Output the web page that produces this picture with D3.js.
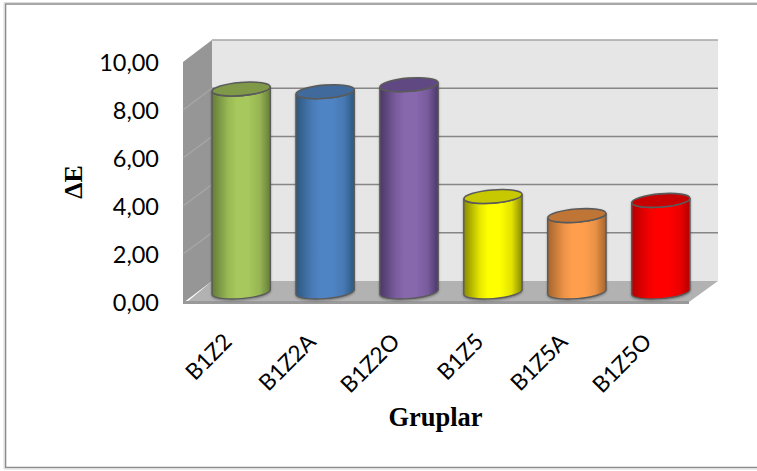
<!DOCTYPE html>
<html>
<head>
<meta charset="utf-8">
<script src="https://cdn.jsdelivr.net/npm/d3@7"></script>
<style>
html,body{margin:0;padding:0;background:#fff}
svg{display:block}
</style>
</head>
<body>
<svg id="chart" width="757" height="471"></svg>
<script>
const groups = ["B1Z2","B1Z2A","B1Z2O","B1Z5","B1Z5A","B1Z5O"];
const deltaE = [8.42,8.31,8.60,3.96,3.17,3.80];
const yTicks = [0,2,4,6,8,10];
const edgeColors = ["#647d38","#2c5880","#4b3768","#8a8a00","#a5652c","#b40000"];
const midColors  = ["#a6c85c","#5084c4","#8767ad","#ffff00","#ff9f4e","#ff0000"];
const capColors  = ["#7f994a","#3f6b9c","#614a82","#c8c800","#bf7535","#c80000"];

const W = 757, H = 471;
const svg = d3.select("#chart");
const defs = svg.append("defs");

// Depth of the 3D box: the back wall is offset from the front plane.
const depthX = 29;

// Value scales for the front plane (axis labels), back wall (gridlines) and bar centre plane.
const yFront = d3.scaleLinear().domain([0,10]).range([302,62]);
const yBack  = d3.scaleLinear().domain([0,10]).range([281,40]);
const yBar   = d3.scaleLinear().domain([0,10]).range([292,51]);
const x = d3.scaleBand().domain(groups).range([199,703]).paddingInner(0.305).paddingOuter(0.155);

const frontL = 183, frontR = 689, backL = frontL+depthX, backR = frontR+depthX;

// Outer frame: left, top and bottom rules
const frame = svg.append("g").attr("fill","none");
frame.append("path").attr("d",`M${W},4H5.5V467.5H${W}`).attr("stroke","#8c8c8c").attr("stroke-width",1.6);
frame.append("path").attr("d",`M${W},2.5H4V469H${W}`).attr("stroke","#dcdcdc").attr("stroke-width",1);

// Back wall, side wall, floor
const box = svg.append("g");
box.append("rect").attr("x",backL).attr("y",yBack(10)).attr("width",backR-backL).attr("height",yBack(0)-yBack(10)).attr("fill","#e6e6e6");
box.append("path")
  .attr("d",`M${frontL},${yFront(10)}L${backL},${yBack(10)}V${yBack(0)}L${frontL},${yFront(0)+1}Z`)
  .attr("fill","#969696");
box.append("path")
  .attr("d",`M${frontL+4},${yFront(0)}L${backL},${yBack(0)}H${backR}L${frontR},${yFront(0)}Z`)
  .attr("fill","#b2b2b2");
box.append("rect").attr("x",frontL).attr("y",yFront(0)-1).attr("width",frontR-frontL).attr("height",3).attr("fill","#999999");

// Gridlines across the back wall and their continuation on the side wall
const grid = box.append("g");
grid.selectAll("line.back").data(yTicks.slice(1)).join("line")
  .attr("class","back")
  .attr("x1",backL).attr("x2",backR)
  .attr("y1",d=>yBack(d)).attr("y2",d=>yBack(d))
  .attr("stroke",d=>d===10?"#a6a6a6":"#868686").attr("stroke-width",1.5);
grid.selectAll("line.side").data(yTicks.slice(1,5)).join("line")
  .attr("class","side")
  .attr("x1",frontL).attr("x2",backL)
  .attr("y1",d=>yFront(d)).attr("y2",d=>yBack(d))
  .attr("stroke","#a8a8a8").attr("stroke-width",1.2);

// Horizontal shading for each cylinder
groups.forEach((g,i)=>{
  const grad = defs.append("linearGradient").attr("id","cyl"+i);
  [[0,edgeColors[i]],[0.28,d3.interpolateRgb(edgeColors[i],midColors[i])(0.8)],[0.42,midColors[i]],[0.62,midColors[i]],[0.82,d3.interpolateRgb(edgeColors[i],midColors[i])(0.75)],[1,edgeColors[i]]]
    .forEach(([o,c])=>grad.append("stop").attr("offset",o).attr("stop-color",c));
});
defs.append("filter").attr("id","soft").attr("x","-20%").attr("y","-20%").attr("width","140%").attr("height","140%")
  .append("feDropShadow").attr("dx",0).attr("dy",1).attr("stdDeviation",0.8).attr("flood-color","#000").attr("flood-opacity",0.35);

// Cylinders: tilted ellipse caps joined by straight sides
const tilt = 4.6, ry = 6.6;
const rx = x.bandwidth()/2;
const lift = rx*Math.sin(tilt*Math.PI/180);
const bars = svg.append("g").selectAll("g").data(groups).join("g").attr("filter","url(#soft)");
bars.append("path")
  .attr("d",(g,i)=>{
    const l = x(g), r = l+x.bandwidth(), top = yBar(deltaE[i]), bot = yBar(0);
    return `M${l},${top+lift}L${l},${bot+lift}A${rx},${ry} ${-tilt} 0 0 ${r},${bot-lift}L${r},${top-lift}A${rx},${ry} ${-tilt} 0 1 ${l},${top+lift}Z`;
  })
  .attr("fill",(g,i)=>`url(#cyl${i})`)
  .attr("stroke","#5a5a5a").attr("stroke-width",1.4);
bars.append("ellipse")
  .attr("cx",0).attr("cy",0).attr("rx",rx).attr("ry",ry)
  .attr("transform",(g,i)=>`translate(${x(g)+rx},${yBar(deltaE[i])}) rotate(${-tilt})`)
  .attr("fill",(g,i)=>capColors[i])
  .attr("stroke","#5a5a5a").attr("stroke-width",1.6);

// Value axis labels
svg.append("g").selectAll("text").data(yTicks).join("text")
  .attr("x",159).attr("y",d=>yFront(d)+8.5)
  .attr("text-anchor","end")
  .attr("font-family","Lato, sans-serif").attr("font-size",23.5).attr("fill","#000")
  .text(d=>d3.format(".2f")(d).replace(".",","));

// Category labels, rotated and ending under each bar
svg.append("g").selectAll("text").data(groups).join("text")
  .attr("transform",g=>`translate(${x(g)+x.bandwidth()/2-19},${332}) rotate(-45)`)
  .attr("text-anchor","end").attr("dy","0.7em")
  .attr("font-family","Lato, sans-serif").attr("font-size",22.5).attr("fill","#000")
  .text(g=>g);

// Axis titles
svg.append("text")
  .attr("transform","translate(82,182) rotate(-90)")
  .attr("text-anchor","middle")
  .attr("font-family","'Liberation Serif', serif").attr("font-weight","bold").attr("font-size",26)
  .text("ΔE");
svg.append("text")
  .attr("x",435.5).attr("y",426)
  .attr("text-anchor","middle")
  .attr("font-family","'Liberation Serif', serif").attr("font-weight","bold").attr("font-size",26.5)
  .text("Gruplar");
</script>
</body>
</html>
